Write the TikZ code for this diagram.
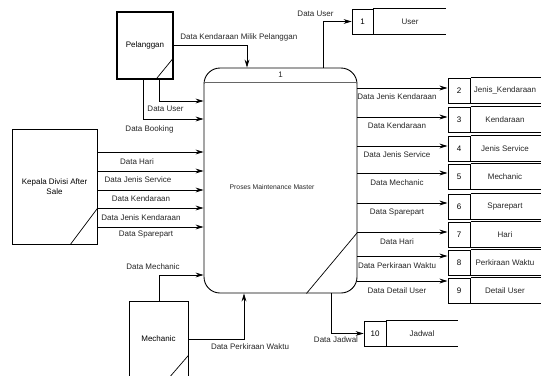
\documentclass[tikz,border=0pt]{standalone}
\usepackage{fontspec}
\setmainfont{Liberation Sans}
\usetikzlibrary{arrows.meta}
\begin{document}
\begin{tikzpicture}[x=1pt,y=-1pt,
  font=\fontsize{8}{9.4}\selectfont,
  line width=0.7pt,
  flow/.style={draw, -{Stealth[length=8pt,width=4.8pt]}},
  entity/.style={draw, line width=0.8pt, inner sep=0pt, align=center},
  cellbox/.style={draw, line width=0.8pt, inner sep=0pt, minimum height=25pt},
  storeline/.style={line width=0.8pt},
  lbl/.style={inner sep=0pt, text=black!85},
]
\useasboundingbox (0,0) rectangle (541,375);

% ---------- process ----------
\node[draw, rounded corners=16pt, minimum width=153pt, minimum height=225pt,
      inner sep=0pt, line width=0.9pt] (proc) at (280.5,180.5) {};
\draw[black!60, line width=1pt] ([yshift=-15pt]proc.north west) -- ([yshift=-15pt]proc.north east);
\node[lbl] (pnum) at ([yshift=-7.5pt]proc.north) {1};
\node[lbl, font=\fontsize{6.8}{8}\selectfont] (ptext) at (272,187) {Proses Maintenance Master};
\draw ([xshift=-51pt]proc.south east) -- ([yshift=61pt]proc.south east);

% ---------- external entities ----------
\node[entity, line width=1.3pt, minimum width=56pt, minimum height=67pt] (pel) at (145,45.5) {Pelanggan};
\draw ([xshift=-18pt]pel.south east) -- ([yshift=22pt]pel.south east);

\node[entity, minimum width=85pt, minimum height=115pt] (kep) at (54.5,186.5) {Kepala Divisi After\\Sale};
\draw ([xshift=-27pt]kep.south east) -- ([yshift=36pt]kep.south east);

\node[entity, minimum width=59pt, minimum height=76pt] (mech) at (158.5,339) {Mechanic};
\draw ([xshift=-19pt]mech.south east) -- ([yshift=22pt]mech.south east);

% ---------- data stores ----------
\node[cellbox, minimum width=21pt] (s1) at (362.5,21.5) {1};
\node[lbl] (s1n) at (410,21.5) {User};
\draw[storeline] (s1.north east) -- ++(73,0);
\draw[storeline] (s1.south east) -- ++(73,0);

\foreach \n/\cy/\name in {2/90.5/Jenis\_Kendaraan, 3/119.5/Kendaraan, 4/148.5/Jenis Service,
                         5/176.5/Mechanic, 6/206.5/Sparepart, 7/234.5/Hari,
                         8/262.5/Perkiraan Waktu, 9/290.5/Detail User}{
  \node[cellbox, line width=1pt, minimum width=22pt] (s\n) at (459,\cy) {\n};
  \node[lbl] (s\n n) at (505,\cy) {\name};
  \draw[storeline, line width=1pt] (s\n.north east) -- ++(80,0);
  \draw[storeline, line width=1pt] (s\n.south east) -- ++(80,0);
}

\node[cellbox, minimum width=22pt] (s10) at (375,333.5) {10};
\node[lbl] (s10n) at (422,333.5) {Jadwal};
\draw[storeline] (s10.north east) -- ++(72,0);
\draw[storeline] (s10.south east) -- ++(72,0);

% ---------- flows from Pelanggan ----------
\draw[flow] (pel.east) -| ([xshift=-33.5pt]proc.north);
\node[lbl, anchor=west] at (180,37) {Data Kendaraan Milik Pelanggan};

\draw[flow] ([xshift=14pt]pel.south) |- ([yshift=79.5pt]proc.west);
\node[lbl] at (165.5,109) {Data User};

\draw[flow] ([xshift=-2pt]pel.south) |- ([yshift=61.5pt]proc.west);
\node[lbl] at (149.5,129) {Data Booking};

% ---------- flows from Kepala Divisi After Sale ----------
\foreach \i/\dy/\ly/\lx/\txt in {1/34.5/162/137/Data Hari,
                                 2/15.5/180/138/Data Jenis Service,
                                 3/-3.5/199/141/Data Kendaraan,
                                 4/-21.5/218/141/Data Jenis Kendaraan,
                                 5/-40.5/235/146/Data Sparepart}{
  \coordinate (k\i) at ([yshift=\dy pt]kep.east);
  \draw[flow] (k\i) -- (k\i -| proc.west);
  \node[lbl] at (\lx,\ly) {\txt};
}

% ---------- flows from Mechanic ----------
\draw[flow] ([xshift=0.5pt]mech.north) |- ([yshift=-94.5pt]proc.west);
\node[lbl] at (153,267) {Data Mechanic};

\draw[flow] (mech.east) -| ([xshift=-36.5pt]proc.south);
\node[lbl] at (250,347) {Data Perkiraan Waktu};

% ---------- flows to data stores ----------
\draw[flow] ([xshift=42.5pt]proc.north) |- (s1.west);
\node[lbl] at (315.5,14) {Data User};

\foreach \n/\dy/\ly/\txt in {2/92.5/97/Data Jenis Kendaraan,
                            3/63.5/126/Data Kendaraan,
                            4/34.5/155/Data Jenis Service,
                            5/7.5/183/Data Mechanic,
                            6/-22.5/213/Data Sparepart,
                            7/-51.5/242/Data Hari,
                            8/-75.5/266/Data Perkiraan Waktu,
                            9/-100.5/291/Data Detail User}{
  \coordinate (r\n) at ([yshift=\dy pt]proc.east);
  \draw[flow] (r\n) -- (r\n -| s\n.west);
  \node[lbl] at (397,\ly) {\txt};
}

\draw[flow] ([xshift=50.5pt]proc.south) |- (s10.west);
\node[lbl] at (336,340) {Data Jadwal};

\end{tikzpicture}
\end{document}
